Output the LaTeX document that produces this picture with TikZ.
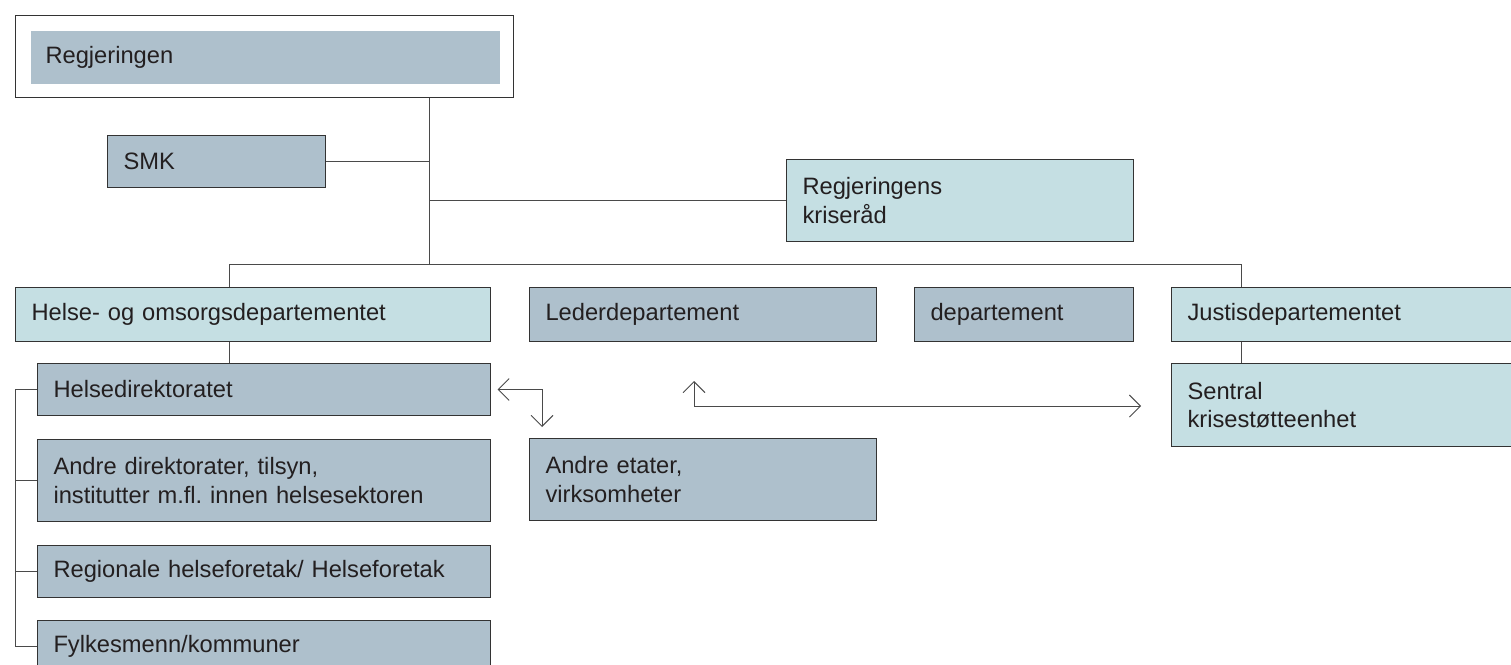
\documentclass[tikz,border=0pt]{standalone}
\usepackage{fontspec}
\setmainfont{Liberation Sans}
\usetikzlibrary{arrows.meta}
\definecolor{darkfill}{HTML}{AEC0CC}
\definecolor{lightfill}{HTML}{C5DFE3}
\definecolor{txt}{HTML}{231F20}
\definecolor{edge}{HTML}{333333}
\definecolor{conn}{HTML}{4A4A4A}
\tikzset{
  base/.style={rectangle, anchor=north west, align=left, inner xsep=16pt, inner ysep=0pt,
    text=txt, font=\fontsize{23.7}{28.2}\selectfont\frenchspacing, line width=1pt},
  dbox/.style={base, draw=edge, fill=darkfill},
  lbox/.style={base, draw=edge, fill=lightfill},
  conline/.style={draw=conn, line width=1pt},
  arr/.style={draw=conn, line width=0.9pt, {Straight Barb[length=11pt,width=22pt]}-{Straight Barb[length=11pt,width=22pt]}}
}
\begin{document}
\begin{tikzpicture}[x=1pt,y=-1pt]
\useasboundingbox (0,0) rectangle (1511,664);
\clip (0,0) rectangle (1511,664);
% nodes
\node[base, draw=edge, fill=white, minimum width=498pt, minimum height=82pt] (regout) at (15,15) {};
\node[base, fill=darkfill, inner xsep=15pt, text width=439pt, minimum height=53pt] (reg) at (30,30) {Regjeringen};
\node[dbox, text width=186pt, minimum height=52pt] (smk) at (107,135) {SMK};
\node[lbox, text width=315pt, minimum height=82pt] (krise) at (786,159) {Regjeringens\\kriseråd};
\node[lbox, text width=443pt, minimum height=54pt] (hod) at (15,287) {Helse- og omsorgsdepartementet};
\node[dbox, text width=315pt, minimum height=54pt] (leder) at (529,287) {Lederdepartement};
\node[dbox, text width=187pt, minimum height=54pt] (dep) at (914,287) {departement};
\node[lbox, text width=328pt, minimum height=54pt] (justis) at (1171,287) {Justisdepartementet};
\node[lbox, text width=328pt, minimum height=83pt] (sentral) at (1171,363) {Sentral\\krisestøtteenhet};
\node[dbox, text width=421pt, minimum height=52pt] (hdir) at (37,363) {Helsedirektoratet};
\node[dbox, text width=421pt, minimum height=82pt] (andre) at (37,439) {Andre direktorater, tilsyn,\\institutter m.fl. innen helsesektoren};
\node[dbox, text width=421pt, minimum height=52pt] (rhf) at (37,545) {Regionale helseforetak/ Helseforetak};
\node[dbox, text width=421pt, minimum height=52pt] (fylk) at (37,620) {Fylkesmenn/kommuner};
\node[dbox, text width=315pt, minimum height=82pt] (etater) at (529,438) {Andre etater,\\virksomheter};
% coordinates
\coordinate (trunk) at (429,264);
\coordinate (busL) at (229,264);
\coordinate (busR) at (1241,264);
\coordinate (lb) at (15,0);
\coordinate (c1) at (542,390);
\coordinate (a2up) at (694,381);
\coordinate (a2r) at (1141,406);
% connectors
\draw[conline] (regout.south -| trunk) -- (trunk);
\draw[conline] (smk.east) -- (smk.east -| trunk);
\draw[conline] (krise.west) -- (krise.west -| trunk);
\draw[conline] (busL |- hod.north) -- (busL) -- (busR) -- (busR |- justis.north);
\draw[conline] (hod.south -| busL) -- (hdir.north -| busL);
\draw[conline] (justis.south -| busR) -- (sentral.north -| busR);
\draw[conline] (hdir.west) -- (hdir.west -| lb) -- (fylk.west -| lb) -- (fylk.west);
\draw[conline] (andre.west) -- (andre.west -| lb);
\draw[conline] (rhf.west) -- (rhf.west -| lb);
% arrows
\draw[arr] ([xshift=6.5pt]hdir.east) -| ([yshift=11pt]etater.north -| c1);
\draw[arr] (a2up) |- (a2r);
\end{tikzpicture}
\end{document}
